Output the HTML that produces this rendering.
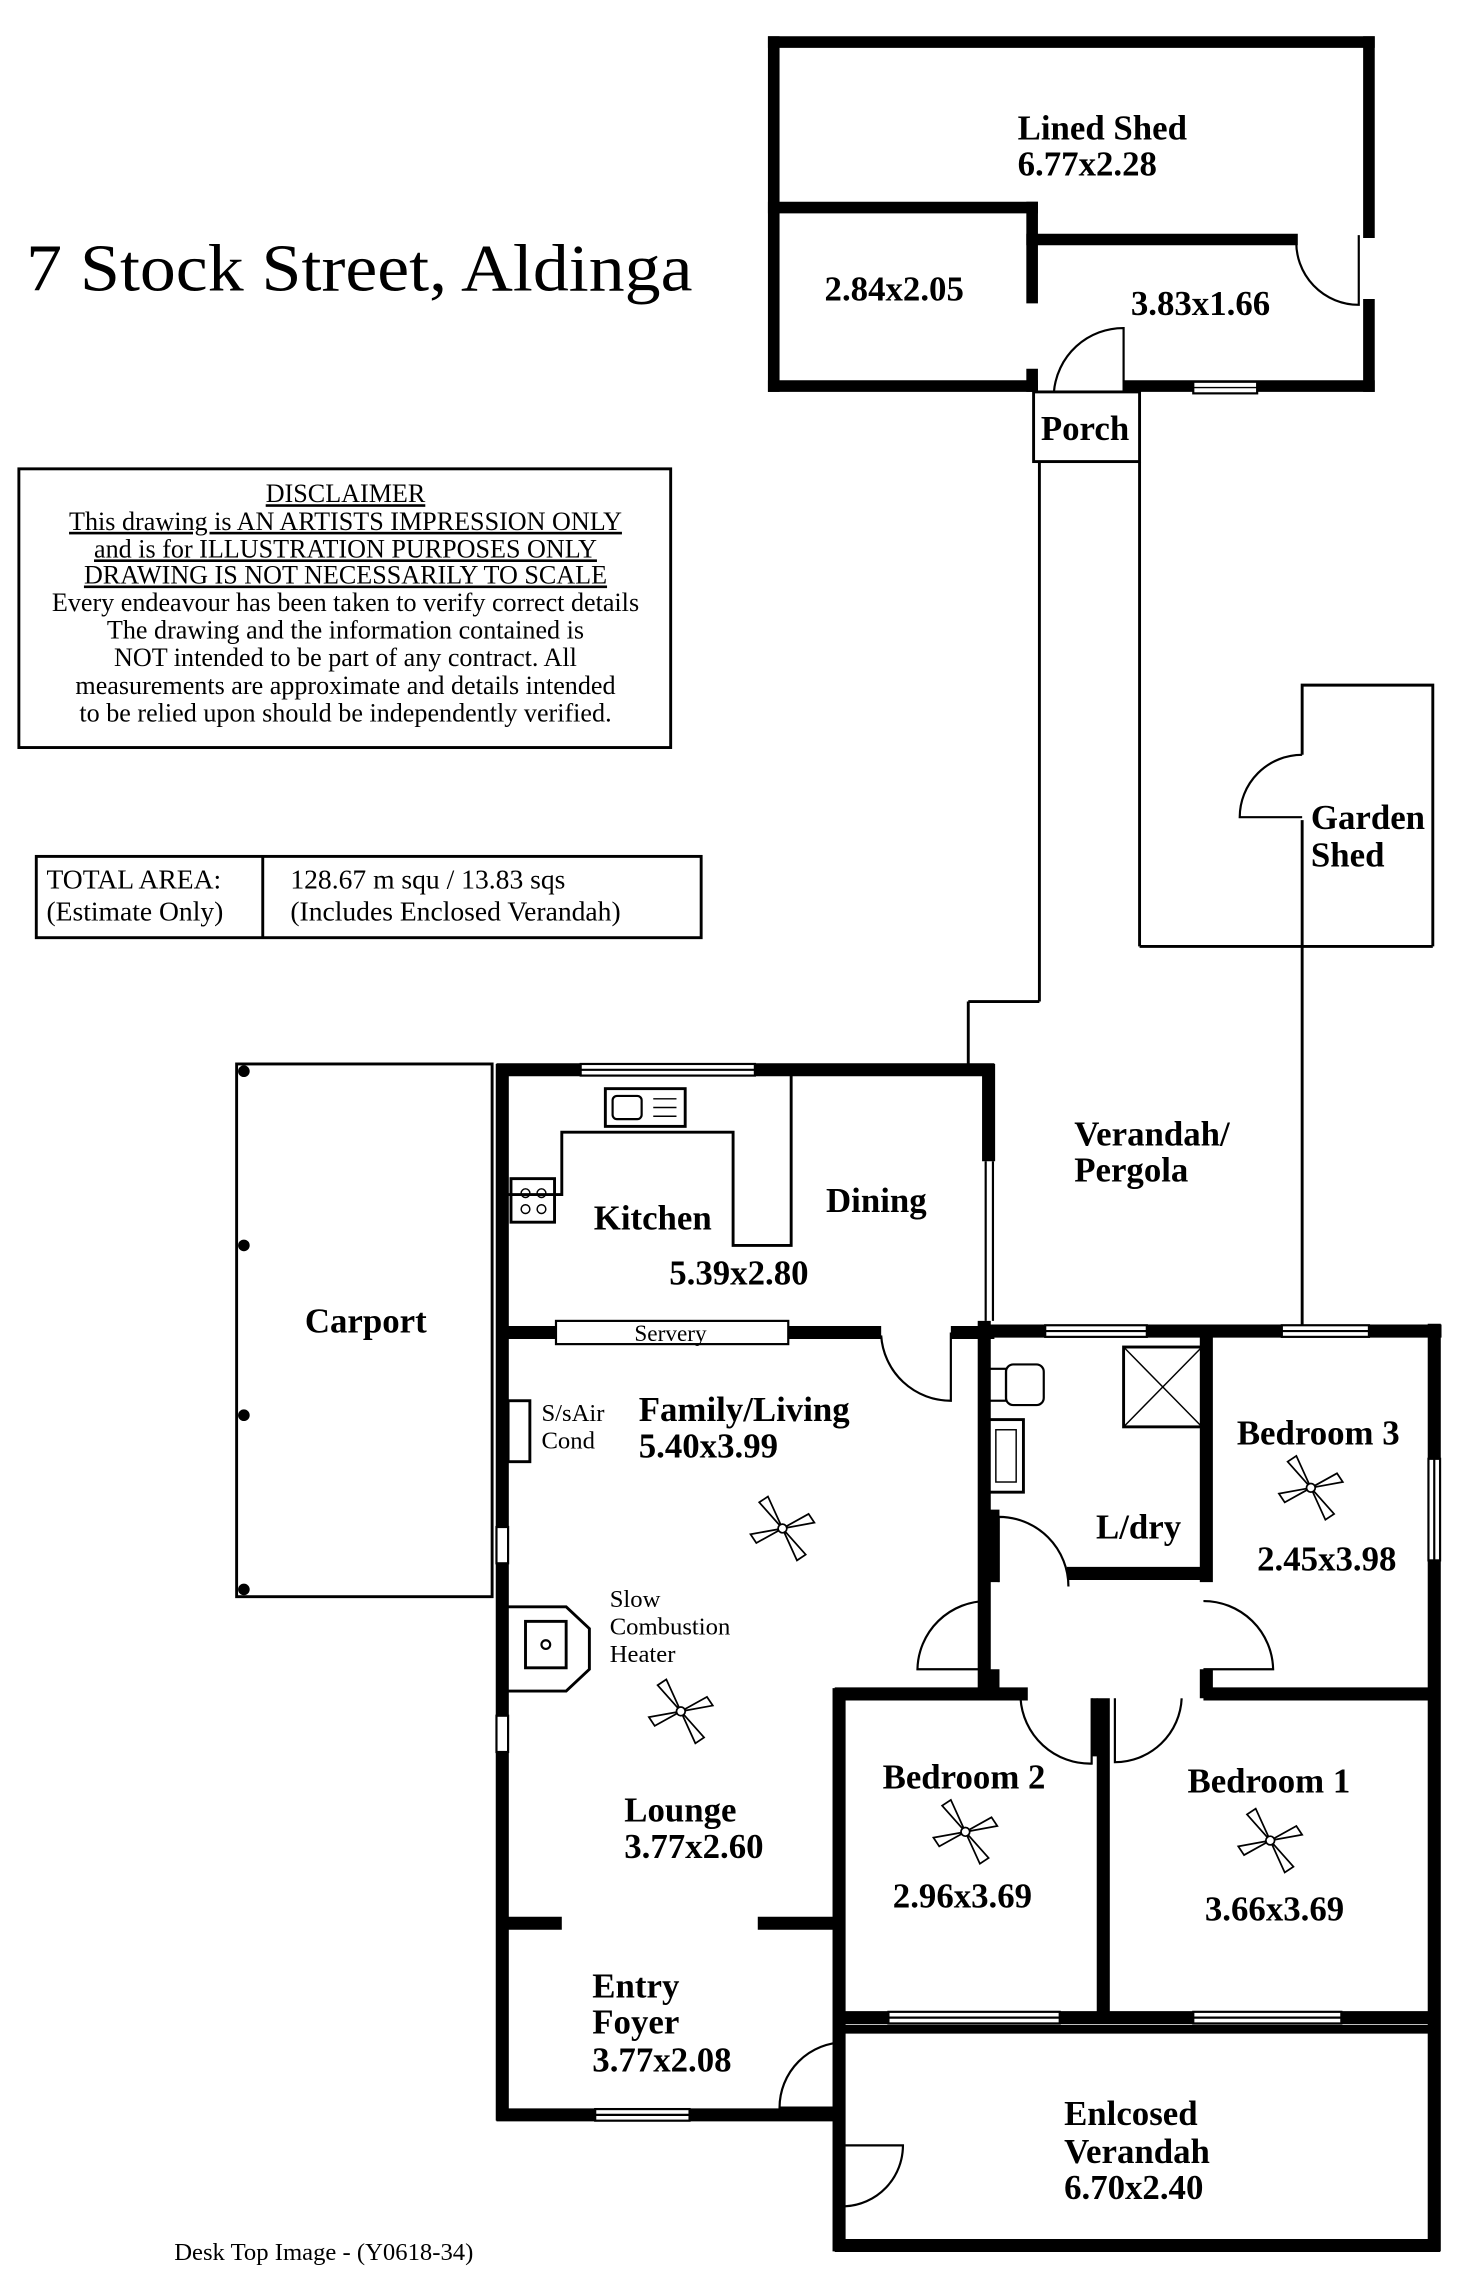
<!DOCTYPE html>
<html><head><meta charset="utf-8">
<style>
html,body{margin:0;padding:0;background:#fff;}
svg{display:block;}
text{font-family:"Liberation Serif",serif;fill:#000;}
.b{font-weight:bold;font-size:24px;}
</style></head>
<body>
<svg width="1472" height="2276" viewBox="0 0 1014 1568" preserveAspectRatio="none" xmlns="http://www.w3.org/2000/svg">
<g stroke="#000" fill="none">
<g stroke-width="8" stroke-linecap="square">
<line x1="533" y1="29" x2="943" y2="29"/>
<line x1="533" y1="29" x2="533" y2="266"/>
<line x1="943" y1="29" x2="943" y2="160"/>
<line x1="943" y1="210" x2="943" y2="266"/>
<line x1="533" y1="143" x2="711" y2="143"/>
<line x1="711" y1="143" x2="711" y2="205"/>
<line x1="711" y1="165" x2="890" y2="165"/>
<line x1="533" y1="266" x2="711" y2="266"/>
<line x1="711" y1="258" x2="711" y2="266"/>
<line x1="778" y1="266" x2="943" y2="266"/>
</g>
<path d="M893 165 A43 43 0 0 0 936 210 L936 162" stroke-width="1.5"/>
<path d="M726 270 A48 48 0 0 1 774 226 L774 270" stroke-width="1.5"/>
<rect x="822" y="263" width="44" height="8" fill="#fff" stroke-width="1.5"/>
<line x1="822" y1="267" x2="866" y2="267" stroke-width="1"/>
<rect x="712" y="270" width="73" height="48" stroke-width="2"/>
<line x1="716" y1="318" x2="716" y2="690" stroke-width="2"/>
<line x1="716" y1="690" x2="667" y2="690" stroke-width="2"/>
<line x1="667" y1="690" x2="667" y2="735" stroke-width="2"/>
<line x1="785" y1="318" x2="785" y2="652" stroke-width="2"/>
<line x1="785" y1="652" x2="987" y2="652" stroke-width="2"/>
<polyline points="897,520 897,472 987,472 987,652" stroke-width="2"/>
<line x1="897" y1="565" x2="897" y2="913" stroke-width="2"/>
<path d="M897 520 A43 43 0 0 0 854 563 L897 563" stroke-width="1.5"/>
<rect x="163" y="733" width="176" height="367" stroke-width="2"/>
<g fill="#000" stroke="none">
<circle cx="168" cy="738" r="4"/><circle cx="168" cy="858" r="4"/><circle cx="168" cy="975" r="4"/><circle cx="168" cy="1095" r="4"/>
</g>
<g stroke-width="9">
<line x1="346" y1="733" x2="346" y2="1461"/>
<line x1="342" y1="737" x2="685" y2="737"/>
<line x1="681" y1="733" x2="681" y2="800"/>
<line x1="342" y1="918" x2="607" y2="918"/>
<line x1="655" y1="918" x2="685" y2="918"/>
<line x1="678" y1="910" x2="678" y2="1170"/>
<line x1="676" y1="917" x2="993" y2="917"/>
<line x1="988" y1="912" x2="988" y2="1551"/>
<line x1="831" y1="920" x2="831" y2="1090"/>
<line x1="735" y1="1084" x2="835" y2="1084"/>
<line x1="684" y1="1040" x2="684" y2="1090"/>
<line x1="831" y1="1150" x2="831" y2="1170"/>
<line x1="684" y1="1150" x2="684" y2="1170"/>
<line x1="575" y1="1167" x2="708" y2="1167"/>
<line x1="829" y1="1167" x2="992" y2="1167"/>
<line x1="578" y1="1163" x2="578" y2="1551"/>
<line x1="760" y1="1170" x2="760" y2="1390"/>
<line x1="575" y1="1390" x2="992" y2="1390"/>
<line x1="575" y1="1547" x2="992" y2="1547"/>
<line x1="342" y1="1457" x2="578" y2="1457"/>
<line x1="342" y1="1325" x2="387" y2="1325"/>
<line x1="522" y1="1325" x2="578" y2="1325"/>
</g>
<line x1="575" y1="1398" x2="992" y2="1398" stroke-width="6"/>
<line x1="754" y1="1170" x2="754" y2="1210" stroke-width="4"/>
<line x1="679" y1="800" x2="679" y2="910" stroke-width="1.5"/>
<line x1="684" y1="800" x2="684" y2="910" stroke-width="1.5"/>
<g fill="#fff" stroke-width="1.5">
<rect x="400" y="733" width="120" height="8"/>
<rect x="720" y="913" width="70" height="8"/>
<rect x="883" y="913" width="60" height="8"/>
<rect x="984" y="1005" width="8" height="70"/>
<rect x="342" y="1052" width="8" height="25"/>
<rect x="342" y="1182" width="8" height="25"/>
<rect x="612" y="1386" width="118" height="8"/>
<rect x="822" y="1386" width="102" height="8"/>
<rect x="410" y="1453" width="65" height="8"/>
<rect x="383" y="910" width="160" height="16"/>
</g>
<g stroke-width="1.5">
<line x1="400" y1="737" x2="520" y2="737"/>
<line x1="720" y1="917" x2="790" y2="917"/>
<line x1="883" y1="917" x2="943" y2="917"/>
<line x1="988" y1="1005" x2="988" y2="1075"/>
<line x1="612" y1="1390" x2="730" y2="1390"/>
<line x1="822" y1="1390" x2="924" y2="1390"/>
<line x1="410" y1="1457" x2="475" y2="1457"/>
</g>
<polyline points="350,823 387,823 387,780 505,780 505,858 545,858 545,741" stroke-width="2"/>
<rect x="417" y="750" width="55" height="26" stroke-width="2"/>
<rect x="422" y="755" width="20" height="16" rx="3" stroke-width="1.5"/>
<line x1="450" y1="757" x2="466" y2="757" stroke-width="1"/><line x1="450" y1="763" x2="466" y2="763" stroke-width="1"/><line x1="450" y1="769" x2="466" y2="769" stroke-width="1"/>
<rect x="352" y="812" width="30" height="30" stroke-width="2"/>
<circle cx="362" cy="822" r="3" stroke-width="1"/><circle cx="373" cy="822" r="3" stroke-width="1"/><circle cx="362" cy="833" r="3" stroke-width="1"/><circle cx="373" cy="833" r="3" stroke-width="1"/>
<path d="M607 920 A48 48 0 0 0 655 965 L655 918" stroke-width="1.5"/>
<path d="M688 1090 L688 1045 A48 48 0 0 1 736 1093" stroke-width="1.5"/>
<path d="M680 1103 A48 48 0 0 0 632 1150 L680 1150" stroke-width="1.5"/>
<path d="M829 1103 A48 48 0 0 1 877 1150 L829 1150" stroke-width="1.5"/>
<path d="M703 1170 A48 48 0 0 0 752 1215 L752 1170" stroke-width="1.5"/>
<path d="M768 1170 L768 1214 A46 46 0 0 0 814 1170" stroke-width="1.5"/>
<path d="M582 1407 A45 45 0 0 0 537 1452 L582 1452" stroke-width="1.5"/>
<path d="M582 1478 L622 1478 A42 42 0 0 1 582 1520" stroke-width="1.5"/>
<rect x="681" y="943" width="12" height="22" stroke-width="1.5"/>
<rect x="693" y="940" width="26" height="28" rx="5" stroke-width="1.5"/>
<rect x="681" y="978" width="24" height="50" stroke-width="2"/>
<rect x="686" y="985" width="14" height="36" stroke-width="1"/>
<rect x="774" y="928" width="54" height="55" stroke-width="2"/>
<line x1="774" y1="928" x2="828" y2="983" stroke-width="1"/><line x1="828" y1="928" x2="774" y2="983" stroke-width="1"/>
<rect x="350" y="965" width="15" height="42" stroke-width="2"/>
<path d="M350 1107 L390 1107 L406 1122 L406 1150 L390 1165 L350 1165" stroke-width="2"/>
<rect x="362" y="1117" width="28" height="32" stroke-width="2"/>
<circle cx="376" cy="1133" r="3" stroke-width="1.5"/>
</g>
<defs>
<g id="fan" fill="#fff" stroke="#000" stroke-width="1.2">
<polygon points="0,0 -16,-18 -10,-22"/><polygon points="0,0 18,-10 22,-4"/><polygon points="0,0 16,18 10,22"/><polygon points="0,0 -18,10 -22,4"/>
<circle cx="0" cy="0" r="3"/>
</g>
</defs>
<use href="#fan" x="539" y="1053"/>
<use href="#fan" x="469" y="1179"/>
<use href="#fan" x="903" y="1025"/>
<use href="#fan" x="665" y="1262"/>
<use href="#fan" x="875" y="1268"/>
<text x="18" y="200" font-size="46" textLength="459" lengthAdjust="spacingAndGlyphs">7 Stock Street, Aldinga</text>
<text x="701" y="96" class="b">Lined Shed</text>
<text x="701" y="121" class="b">6.77x2.28</text>
<text x="568" y="207" class="b">2.84x2.05</text>
<text x="779" y="217" class="b">3.83x1.66</text>
<text x="717" y="303" class="b">Porch</text>
<text x="903" y="571" class="b">Garden</text>
<text x="903" y="597" class="b">Shed</text>
<text x="740" y="789" class="b">Verandah/</text>
<text x="740" y="814" class="b">Pergola</text>
<text x="210" y="918" class="b">Carport</text>
<text x="409" y="847" class="b">Kitchen</text>
<text x="569" y="835" class="b">Dining</text>
<text x="461" y="885" class="b">5.39x2.80</text>
<text x="437" y="924" font-size="16">Servery</text>
<text x="373" y="979" font-size="17">S/sAir</text>
<text x="373" y="998" font-size="17">Cond</text>
<text x="440" y="979" class="b">Family/Living</text>
<text x="440" y="1004" class="b">5.40x3.99</text>
<text x="755" y="1060" class="b">L/dry</text>
<text x="852" y="995" class="b">Bedroom 3</text>
<text x="866" y="1082" class="b">2.45x3.98</text>
<text x="420" y="1107" font-size="17">Slow</text>
<text x="420" y="1126" font-size="17">Combustion</text>
<text x="420" y="1145" font-size="17">Heater</text>
<text x="608" y="1232" class="b">Bedroom 2</text>
<text x="615" y="1314" class="b">2.96x3.69</text>
<text x="818" y="1235" class="b">Bedroom 1</text>
<text x="830" y="1323" class="b">3.66x3.69</text>
<text x="430" y="1255" class="b">Lounge</text>
<text x="430" y="1280" class="b">3.77x2.60</text>
<text x="408" y="1376" class="b">Entry</text>
<text x="408" y="1401" class="b">Foyer</text>
<text x="408" y="1427" class="b">3.77x2.08</text>
<text x="733" y="1464" class="b">Enlcosed</text>
<text x="733" y="1490" class="b">Verandah</text>
<text x="733" y="1515" class="b">6.70x2.40</text>
<text x="120" y="1557" font-size="17">Desk Top Image - (Y0618-34)</text>
<rect x="13" y="323" width="449" height="192" fill="none" stroke="#000" stroke-width="2"/>
<g font-size="18" text-anchor="middle">
<text x="238" y="346" text-decoration="underline">DISCLAIMER</text>
<text x="238" y="365" text-decoration="underline">This drawing is AN ARTISTS IMPRESSION ONLY</text>
<text x="238" y="384" text-decoration="underline">and is for ILLUSTRATION PURPOSES ONLY</text>
<text x="238" y="402" text-decoration="underline">DRAWING IS NOT NECESSARILY TO SCALE</text>
<text x="238" y="421">Every endeavour has been taken to verify correct details</text>
<text x="238" y="440">The drawing and the information contained is</text>
<text x="238" y="459">NOT intended to be part of any contract. All</text>
<text x="238" y="478">measurements are approximate and details intended</text>
<text x="238" y="497">to be relied upon should be independently verified.</text>
</g>
<rect x="25" y="590" width="458" height="56" fill="none" stroke="#000" stroke-width="2"/>
<line x1="181" y1="590" x2="181" y2="646" stroke="#000" stroke-width="2"/>
<g font-size="19">
<text x="32" y="612">TOTAL AREA:</text>
<text x="32" y="634">(Estimate Only)</text>
<text x="200" y="612">128.67 m squ /  13.83 sqs</text>
<text x="200" y="634">(Includes Enclosed Verandah)</text>
</g>
</svg>
</body></html>
